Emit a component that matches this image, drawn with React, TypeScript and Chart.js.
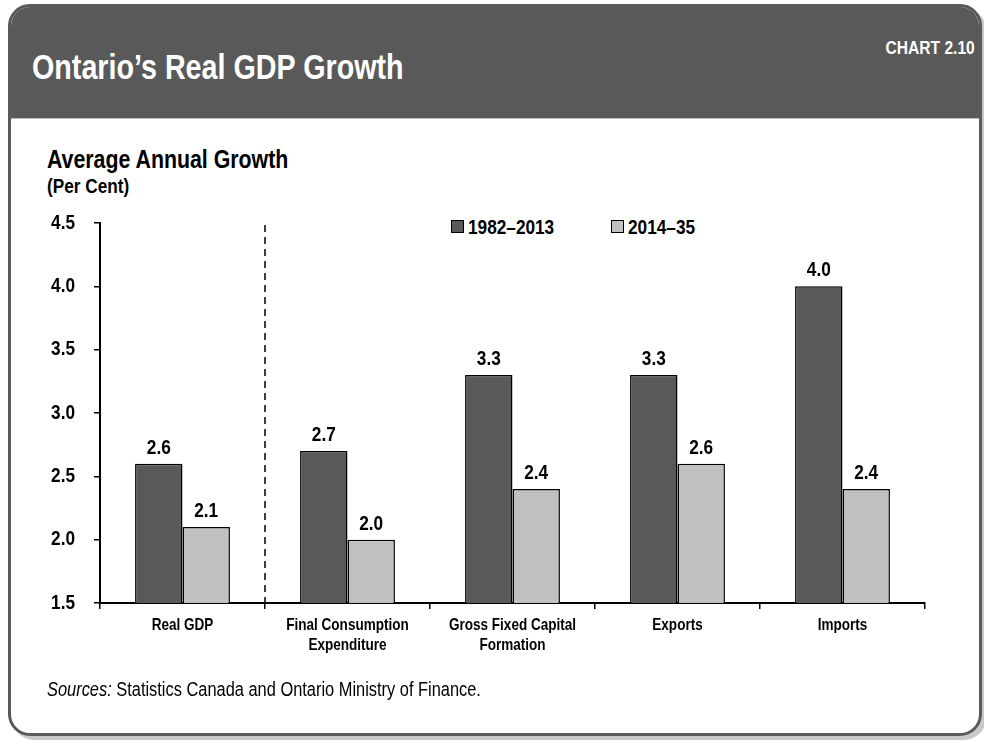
import React, { useEffect, useRef } from "react";
import { Chart, registerables } from "chart.js";

Chart.register(...registerables);

// ---- data ----
const categories: string[][] = [
  ["Real GDP"],
  ["Final Consumption", "Expenditure"],
  ["Gross Fixed Capital", "Formation"],
  ["Exports"],
  ["Imports"],
];
const seriesNames = ["1982–2013", "2014–35"];
const growth1982to2013 = [2.6, 2.7, 3.3, 3.3, 4.0];
const growth2014to35 = [2.1, 2.0, 2.4, 2.6, 2.4];
const yMin = 1.5;
const yMax = 4.5;
const yStep = 0.5;

const DARK = "#595959";
const LIGHT = "#c0c0c0";
const FONT = "'Liberation Sans', Arial, sans-serif";
const SQUEEZE = 0.82;

function narrowText(ctx: CanvasRenderingContext2D, t: string, x: number, y: number) {
  ctx.save();
  ctx.translate(x, y);
  ctx.scale(SQUEEZE, 1);
  ctx.fillText(t, 0, 0);
  ctx.restore();
}

const axisLabelPlugin = {
  id: "axisLabels",
  afterDraw(chart: any) {
    const ctx = chart.ctx as CanvasRenderingContext2D;
    const xs = chart.scales.x;
    const ys = chart.scales.y;
    ctx.save();
    ctx.fillStyle = "#000";
    // y tick labels
    ctx.font = `bold 21px ${FONT}`;
    ctx.textAlign = "right";
    ctx.textBaseline = "middle";
    ys.ticks.forEach((tk: any, i: number) => {
      const y = ys.getPixelForTick(i);
      narrowText(ctx, Number(tk.value).toFixed(1), ys.right - 25, y);
    });
    // x category labels
    ctx.font = `bold 16.5px ${FONT}`;
    ctx.textAlign = "center";
    ctx.textBaseline = "middle";
    xs.ticks.forEach((_tk: any, i: number) => {
      const x = xs.getPixelForTick(i);
      const lines = categories[i];
      lines.forEach((ln, k) => {
        narrowText(ctx, ln, x, xs.top + 22 + k * 20);
      });
    });
    ctx.restore();
  },
};

const valueLabelPlugin = {
  id: "valueLabels",
  afterDatasetsDraw(chart: any) {
    const ctx = chart.ctx as CanvasRenderingContext2D;
    ctx.save();
    ctx.font = `bold 21px ${FONT}`;
    ctx.fillStyle = "#000";
    ctx.textAlign = "center";
    ctx.textBaseline = "alphabetic";
    chart.data.datasets.forEach((ds: any, di: number) => {
      const meta = chart.getDatasetMeta(di);
      meta.data.forEach((bar: any, i: number) => {
        const v = ds.data[i] as number;
        narrowText(ctx, v.toFixed(1), bar.x, bar.y - 10);
      });
    });
    ctx.restore();
  },
};

const dividerPlugin = {
  id: "divider",
  afterDraw(chart: any) {
    const xs = chart.scales.x;
    const ys = chart.scales.y;
    const x = (xs.getPixelForValue(0) + xs.getPixelForValue(1)) / 2;
    const ctx = chart.ctx;
    ctx.save();
    ctx.strokeStyle = "#000";
    ctx.lineWidth = 1.5;
    ctx.setLineDash([7, 5]);
    ctx.beginPath();
    ctx.moveTo(x, ys.top + 2);
    ctx.lineTo(x, ys.bottom);
    ctx.stroke();
    ctx.restore();
  },
};

export default function App() {
  const canvasRef = useRef<HTMLCanvasElement | null>(null);

  useEffect(() => {
    const canvas = canvasRef.current;
    if (!canvas) return;
    const chart = new Chart(canvas, {
      type: "bar",
      data: {
        labels: categories.map((c) => c.join(" ")),
        datasets: [
          {
            label: seriesNames[0],
            data: growth1982to2013,
            backgroundColor: DARK,
            borderColor: "#000",
            borderWidth: 1.5,
            categoryPercentage: 0.575,
            barPercentage: 1,
          },
          {
            label: seriesNames[1],
            data: growth2014to35,
            backgroundColor: LIGHT,
            borderColor: "#000",
            borderWidth: 1.5,
            categoryPercentage: 0.575,
            barPercentage: 1,
          },
        ],
      },
      options: {
        responsive: false,
        animation: false,
        devicePixelRatio: 1,
        layout: { padding: { top: 223, left: 0, right: 59, bottom: 77 } },
        plugins: {
          legend: { display: false },
          tooltip: { enabled: false },
          title: { display: false },
        },
        scales: {
          x: {
            afterFit: (scale: any) => {
              scale.height = 60;
            },
            grid: {
              display: true,
              drawOnChartArea: false,
              drawTicks: true,
              tickLength: 6,
              color: "#000",
              lineWidth: 1.5,
              offset: true,
            },
            border: { display: true, color: "#000", width: 2 },
            ticks: { display: false, autoSkip: false, maxRotation: 0 },
          },
          y: {
            min: yMin,
            max: yMax,
            afterFit: (scale: any) => {
              scale.width = 100;
            },
            grid: {
              display: true,
              drawOnChartArea: false,
              drawTicks: true,
              tickLength: 6,
              color: "#000",
              lineWidth: 1.5,
            },
            border: { display: true, color: "#000", width: 2 },
            ticks: { display: false, stepSize: yStep },
          },
        },
      },
      plugins: [valueLabelPlugin, dividerPlugin, axisLabelPlugin],
    });
    return () => chart.destroy();
  }, []);

  const text = (extra: React.CSSProperties, origin = "left center"): React.CSSProperties => ({
    position: "absolute",
    fontFamily: FONT,
    lineHeight: 1,
    whiteSpace: "nowrap",
    margin: 0,
    transform: `scaleX(${SQUEEZE})`,
    transformOrigin: origin,
    ...extra,
  });

  return (
    <div style={{ position: "absolute", left: 0, top: 0, width: 984, height: 740, background: "#fff", overflow: "hidden" }}>
      {/* shadow */}
      <div
        style={{
          position: "absolute",
          left: 12,
          top: 8,
          width: 974,
          height: 732,
          borderRadius: 22,
          background: "#c8c8c8",
        }}
      />
      {/* card */}
      <div
        style={{
          position: "absolute",
          left: 8,
          top: 4,
          width: 974,
          height: 732,
          boxSizing: "border-box",
          border: `3px solid ${DARK}`,
          borderRadius: 22,
          background: "#fff",
          overflow: "hidden",
        }}
      >
        <div
          style={{
            position: "absolute",
            left: 0,
            top: 0,
            right: 0,
            height: 111,
            background: DARK,
            borderBottom: "1px solid #bdbdbd",
          }}
        />
      </div>
      <div style={text({ left: 32, top: 49, fontSize: 35, fontWeight: "bold", color: "#fff" })}>
        Ontario’s Real GDP Growth
      </div>
      <div style={text({ right: 984 - 975, top: 38, fontSize: 19, fontWeight: "bold", color: "#fff" }, "right center")}>
        CHART 2.10
      </div>
      <div style={text({ left: 47, top: 146, fontSize: 26, fontWeight: "bold", color: "#000" })}>
        Average Annual Growth
      </div>
      <div style={text({ left: 47, top: 175, fontSize: 21, fontWeight: "bold", color: "#000" })}>
        (Per Cent)
      </div>
      {/* legend */}
      <div style={{ position: "absolute", left: 451, top: 220, width: 11, height: 11, background: DARK, border: "1px solid #000" }} />
      <div style={text({ left: 468, top: 216, fontSize: 21, fontWeight: "bold", color: "#000" })}>{seriesNames[0]}</div>
      <div style={{ position: "absolute", left: 611, top: 220, width: 11, height: 11, background: LIGHT, border: "1px solid #000" }} />
      <div style={text({ left: 628, top: 216, fontSize: 21, fontWeight: "bold", color: "#000" })}>{seriesNames[1]}</div>
      <canvas
        ref={canvasRef}
        width={984}
        height={740}
        style={{ position: "absolute", left: 0, top: 0, width: 984, height: 740 }}
      />
      <div style={text({ left: 47, top: 679, fontSize: 20, color: "#000" })}>
        <i>Sources:</i> Statistics Canada and Ontario Ministry of Finance.
      </div>
    </div>
  );
}
